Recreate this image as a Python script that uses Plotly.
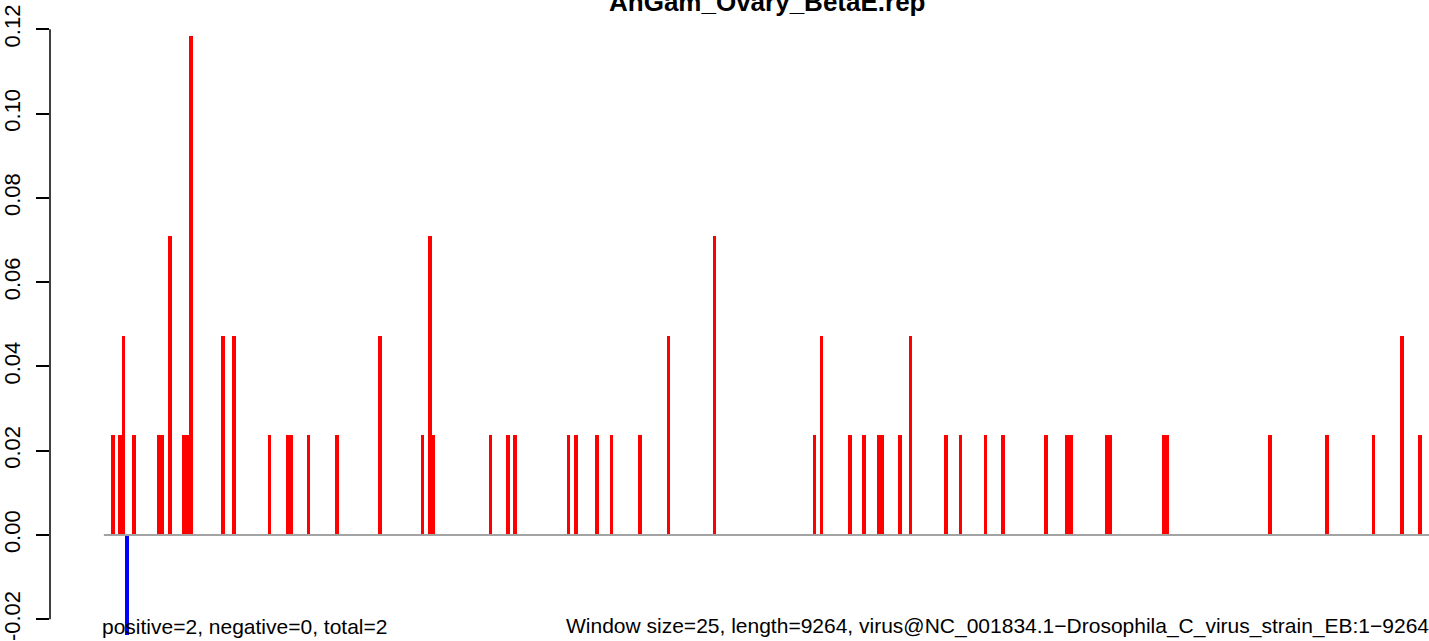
import plotly.graph_objects as go

# ---- data (bin index = window number, window size 25 nt) ----
title_text = "AnGam_Ovary_BetaE.rep"
pos_bins = [2, 4, 5, 8, 15, 16, 18, 22, 23, 24, 33, 36, 46, 51, 52, 57, 65, 77,
            89, 91, 92, 108, 113, 115, 130, 132, 138, 142, 150, 158, 171, 199,
            201, 209, 213, 217, 218, 223, 226, 236, 240, 247, 252, 264, 270,
            271, 281, 282, 297, 298, 327, 343, 356, 364, 369]
pos_vals = [0.0237, 0.0237, 0.0473, 0.0237, 0.0237, 0.0237, 0.0710, 0.0237,
            0.0237, 0.1183, 0.0473, 0.0473, 0.0237, 0.0237, 0.0237, 0.0237,
            0.0237, 0.0473, 0.0237, 0.0710, 0.0237, 0.0237, 0.0237, 0.0237,
            0.0237, 0.0237, 0.0237, 0.0237, 0.0237, 0.0473, 0.0710, 0.0237,
            0.0473, 0.0237, 0.0237, 0.0237, 0.0237, 0.0237, 0.0473, 0.0237,
            0.0237, 0.0237, 0.0237, 0.0237, 0.0237, 0.0237, 0.0237, 0.0237,
            0.0237, 0.0237, 0.0237, 0.0237, 0.0237, 0.0473, 0.0237]
neg_bins = [6]
neg_vals = [-0.0237]
n_bins = 371
y_ticks = [-0.02, 0.00, 0.02, 0.04, 0.06, 0.08, 0.10, 0.12]
y_tick_labels = ["-0.02", "0.00", "0.02", "0.04", "0.06", "0.08", "0.10", "0.12"]
left_note = "positive=2, negative=0, total=2"
right_note = "Window size=25, length=9264, virus@NC_001834.1\u2212Drosophila_C_virus_strain_EB:1\u22129264"

FONT = "Liberation Sans, Arial, Helvetica, sans-serif"
x_range = [-15.13, 372.08]
y_range = [-0.02515, 0.1234]

fig = go.Figure()
fig.add_trace(go.Bar(x=[b + 0.5 for b in pos_bins], y=pos_vals, width=1,
                     marker=dict(color="#ff0000", line=dict(width=0)),
                     showlegend=False, hoverinfo="x+y"))
fig.add_trace(go.Bar(x=[b + 0.5 for b in neg_bins], y=neg_vals, width=1,
                     marker=dict(color="#0000ff", line=dict(width=0)),
                     showlegend=False, hoverinfo="x+y"))

# baseline (grey) from the first window onward
fig.add_shape(type="line", xref="x", yref="y", x0=0, x1=x_range[1], y0=0, y1=0,
              line=dict(color="#a3a3a3", width=2), layer="above")
# R-style y axis line spanning only the tick range
fig.add_shape(type="line", xref="paper", yref="y", x0=0, x1=0,
              y0=y_ticks[0], y1=y_ticks[-1],
              line=dict(color="black", width=1.5), layer="above")

fig.add_annotation(text="<b>" + title_text + "</b>", xref="paper", yref="paper",
                   x=(767 - 50) / 1379, y=(641 - 2) / 626, xanchor="center", yanchor="middle",
                   showarrow=False, font=dict(family=FONT, size=26, color="black"))
fig.add_annotation(text=left_note, xref="paper", yref="paper", x=(100 - 50) / 1379,
                   y=(641 - 626) / 626, xanchor="left", yanchor="middle", showarrow=False,
                   font=dict(family=FONT, size=21, color="black"))
fig.add_annotation(text=right_note, xref="paper", yref="paper", x=(1431 - 50) / 1379,
                   y=(641 - 626) / 626, xanchor="right", yanchor="middle", showarrow=False,
                   font=dict(family=FONT, size=21, color="black"))

fig.update_layout(
    width=1429, height=641,
    margin=dict(l=50, r=0, t=15, b=0, pad=0),
    paper_bgcolor="white", plot_bgcolor="white",
    bargap=0, barmode="overlay",
    font=dict(family=FONT, size=21, color="black"),
    xaxis=dict(range=x_range, showticklabels=False, showgrid=False, zeroline=False,
               showline=False, ticks="", fixedrange=True),
    yaxis=dict(range=y_range, tickvals=y_ticks, ticktext=y_tick_labels,
               tickangle=-90, ticks="outside", ticklen=13, tickwidth=1.5,
               tickcolor="black", showgrid=False, zeroline=False, showline=False,
               automargin=False, ticklabelstandoff=7, ticklabeloverflow="allow",
               tickfont=dict(family=FONT, size=22, color="black")),
)

fig.write_html("out.html",
               config={"displayModeBar": False},
               post_script="document.body.style.margin='0';document.body.style.overflow='hidden';")
